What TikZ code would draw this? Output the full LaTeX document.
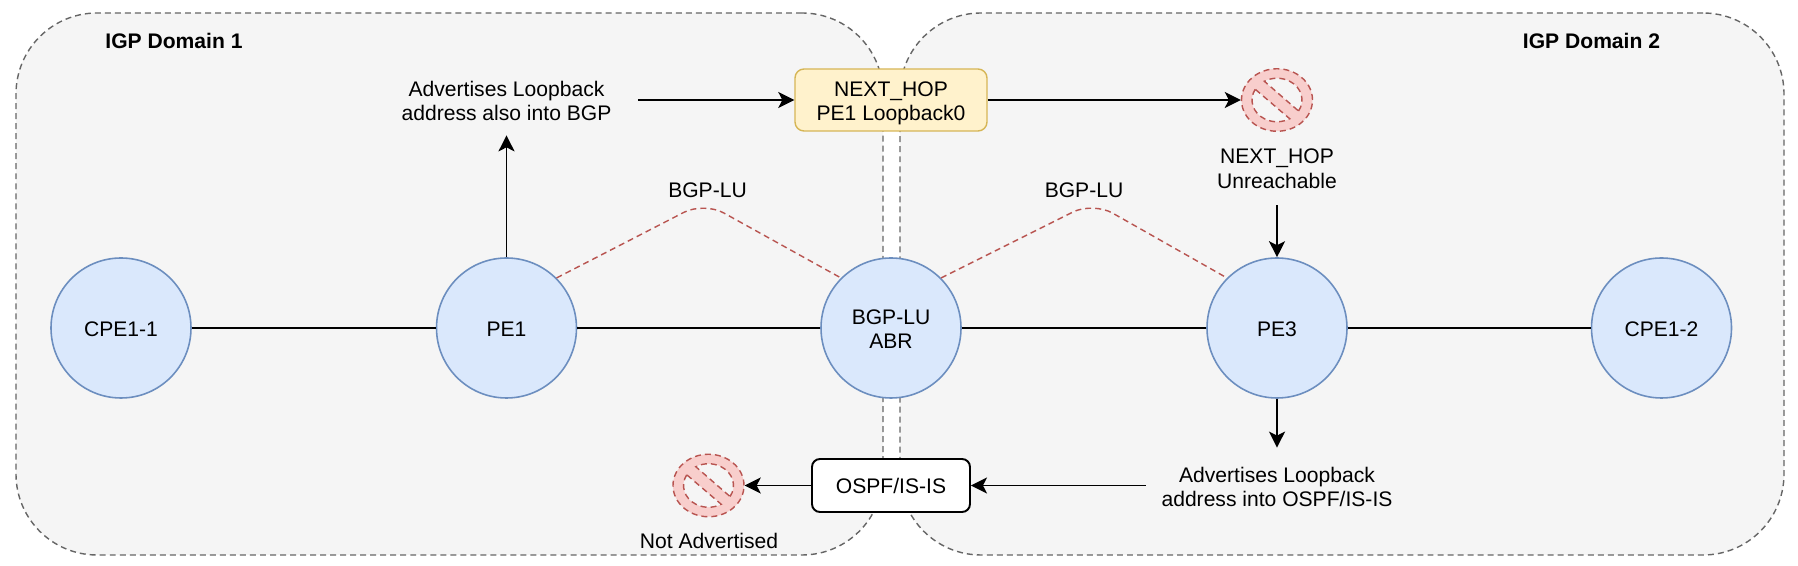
\documentclass[tikz,border=0pt]{standalone}
\usepackage{fontspec}
\setmainfont{Liberation Sans}
\usetikzlibrary{arrows.meta,shapes.geometric}
\definecolor{domainFill}{HTML}{F5F5F5}
\definecolor{domainLine}{HTML}{666666}
\definecolor{routerFill}{HTML}{DAE8FC}
\definecolor{routerLine}{HTML}{6C8EBF}
\definecolor{hopFill}{HTML}{FFF2CC}
\definecolor{hopLine}{HTML}{D6B656}
\definecolor{signFill}{HTML}{F8CECC}
\definecolor{signLine}{HTML}{B85450}
\tikzset{
    every node/.style={font=\fontsize{12pt}{13.8pt}\selectfont, align=center, inner sep=0pt, text height=9.6pt},
    >={Stealth[length=0.32cm,width=0.32cm,inset=0.08cm]},
    shortDash/.style={dash pattern=on 3.4pt off 2.3pt},
    igpDomain/.style={draw=domainLine, fill=domainFill, shortDash, line width=0.8pt, rounded corners=1.62cm, minimum height=10.84cm},
    router/.style={circle, draw=routerLine, fill=routerFill, line width=0.9pt, minimum size=2.8cm},
    noSign/.style={ellipse, draw=signLine, fill=signFill, shortDash, line width=0.8pt, minimum width=1.42cm, minimum height=1.25cm},
    link/.style={line width=1.1pt},
    session/.style={draw=signLine, shortDash, line width=0.8pt, rounded corners=0.45cm},
    noteText/.style={minimum width=5.24cm, text height=23.9pt},
}

\begin{document}
\begin{tikzpicture}[]
    \useasboundingbox (0,0) rectangle (35.96,11.32);

    \node[igpDomain, minimum width=17.34cm] (domain1) at (8.99,5.64) {};
    \node[igpDomain, minimum width=17.68cm] (domain2) at (26.84,5.64) {};
    \node[font=\fontsize{12pt}{13.8pt}\selectfont\bfseries] (domainLabel1) at (3.48,10.51) {IGP Domain 1};
    \node[font=\fontsize{12pt}{13.8pt}\selectfont\bfseries] (domainLabel2) at (31.83,10.51) {IGP Domain 2};

    \node[router] (cpe1) at (2.42,4.76) {CPE1-1};
    \node[router] (pe1) at (10.13,4.76) {PE1};
    \node[router, text height=23.8pt] (abr) at (17.82,4.76) {BGP-LU\\ABR};
    \node[router] (pe3) at (25.54,4.76) {PE3};
    \node[router] (cpe2) at (33.23,4.76) {CPE1-2};

    \node[draw=hopLine, fill=hopFill, line width=0.8pt, rounded corners=0.18cm, minimum width=3.84cm, minimum height=1.24cm, text height=26.2pt] (nextHop) at (17.82,9.32) {NEXT\_HOP\\PE1 Loopback0};
    \node[draw=black, fill=white, line width=1.1pt, rounded corners=0.16cm, minimum width=3.16cm, minimum height=1.06cm, text height=8.8pt] (igpBox) at (17.82,1.61) {OSPF/IS-IS};

    \node[noSign] (noHop) at (25.54,9.32) {};
    \node[noSign] (noAdvert) at (14.17,1.61) {};

    \node[noteText, minimum height=1.4cm] (advertBgp) at (10.13,9.32) {Advertises Loopback\\address also into BGP};
    \node[noteText, minimum height=1.5cm] (advertIgp) at (25.54,1.61) {Advertises Loopback\\address into OSPF/IS-IS};
    \node[minimum height=1.48cm, text height=23pt] (unreachable) at (25.54,7.96) {NEXT\_HOP\\Unreachable};
    \node (notAdvert) at (14.18,0.51) {Not Advertised};
    \node (luLabel1) at (14.15,7.53) {BGP-LU};
    \node (luLabel2) at (21.68,7.53) {BGP-LU};

    \coordinate (peak1) at (14.08,7.28);
    \coordinate (peak2) at (21.86,7.28);

    % ring gaps either side of the bar
    \foreach \sign in {noHop,noAdvert} {
        \begin{scope}[shift={(\sign.center)}, xscale=0.5, yscale=0.435]
            \draw[draw=signLine, fill=domainFill, shortDash, line width=0.8pt] (-30.5:1) arc[start angle=-30.5, end angle=120.5, radius=1] -- cycle;
            \draw[draw=signLine, fill=domainFill, shortDash, line width=0.8pt] (150.5:1) arc[start angle=150.5, end angle=300.5, radius=1] -- cycle;
        \end{scope}
    }

\draw[link] (cpe1) -- (pe1);
\draw[link] (pe1) -- (abr);
\draw[link] (abr) -- (pe3);
\draw[link] (pe3) -- (cpe2);
\draw[session] (pe1.45) -- (peak1) -- (abr.135);
\draw[session] (abr.45) -- (peak2) -- (pe3.135);
\draw[->,link] (pe1) -- (advertBgp);
\draw[->,link] (advertBgp) -- (nextHop);
\draw[->,link] (nextHop) -- (noHop);
\draw[->,link] (unreachable) -- (pe3);
\draw[->,link] (pe3) -- (advertIgp);
\draw[->,link] (advertIgp) -- (igpBox);
\draw[->,link] (igpBox) -- (noAdvert);

\end{tikzpicture}
\end{document}
